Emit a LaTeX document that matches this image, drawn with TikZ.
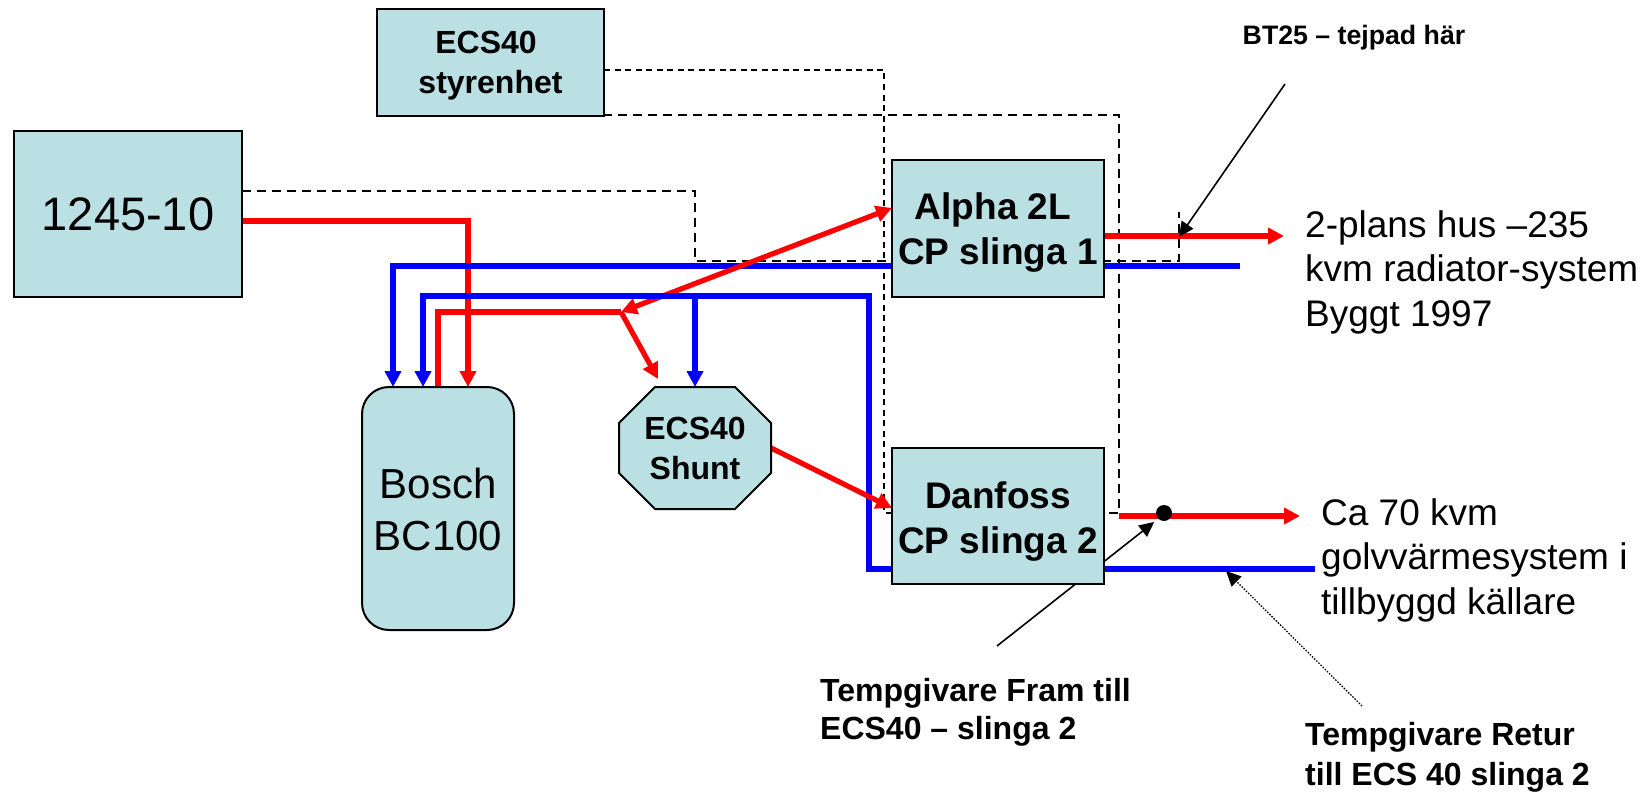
\documentclass[tikz,border=0pt]{standalone}
\usepackage{fontspec}
\setmainfont{Liberation Sans}
\usetikzlibrary{arrows.meta,backgrounds}
\definecolor{boxfill}{HTML}{BAE0E3}
\newcommand{\dropby}[1]{\rule{0pt}{#1pt}}
\tikzset{
  x=1pt,y=-1pt,
  unit/.style={draw=black,line width=2pt,fill=boxfill,inner sep=0pt,outer sep=0pt,align=center},
  bareunit/.style={inner sep=0pt,outer sep=0pt,align=center},
  bigtext/.style={font=\fontsize{37}{44.5}\selectfont},
  boldmid/.style={font=\fontsize{37}{45}\selectfont\bfseries},
  boldsmall/.style={font=\fontsize{32}{40}\selectfont\bfseries},
  caption/.style={align=left,anchor=west,inner sep=0pt},
  note/.style={bigtext,align=left,anchor=west,inner sep=0pt},
  redpipe/.style={draw=red,line width=5.2pt},
  bluepipe/.style={draw=blue,line width=5.2pt},
  tipflow/.style={-{Triangle[length=16pt,width=16pt]}},
  signalA/.style={draw=black,line width=1.7pt,dash pattern=on 6pt off 4.5pt},
  signalB/.style={draw=black,line width=1.8pt,dash pattern=on 9pt off 6pt},
  leader/.style={draw=black,line width=1.6pt,-{Triangle[length=15pt,width=14pt]}},
}
\begin{document}
\begin{tikzpicture}
\useasboundingbox (0,0) rectangle (1650,792);
\node[unit,boldsmall,minimum width=227pt,minimum height=107pt] (ecs) at (490.5,62.5) {\dropby{29}ECS40\hspace*{9pt}\\styrenhet};
\node[unit,font=\fontsize{47}{50}\selectfont,minimum width=228pt,minimum height=166pt] (reg) at (128,214) {1245-10};
\node[unit,boldmid,minimum width=212pt,minimum height=137pt] (alpha) at (998,228.5) {\dropby{35}Alpha 2L\hspace*{10pt}\\CP slinga 1};
\node[unit,boldmid,minimum width=212pt,minimum height=136pt] (dan) at (998,516) {\dropby{37}Danfoss\\CP slinga 2};
\node[unit,rounded corners=27pt,font=\fontsize{42}{52}\selectfont,minimum width=152pt,minimum height=243pt] (bosch) at (438,508.5) {\dropby{33}Bosch\\BC100};
\node[bareunit,boldsmall,minimum width=152pt,minimum height=122pt] (shunt) at (695,448) {ECS40\\Shunt};
\node[note] (house) at (1305,272) {2-plans hus –235\\kvm radiator-system\\Byggt 1997};
\node[note] (floor) at (1321,560) {Ca 70 kvm\\golvvärmesystem i\\tillbyggd källare};
\node[font=\fontsize{26.7}{30}\selectfont\bfseries,inner sep=0pt] (bt) at (1354,38) {BT25 – tejpad här};
\node[caption,font=\fontsize{32}{38}\selectfont\bfseries] (fram) at (820,712) {Tempgivare Fram till\\ECS40 – slinga 2};
\node[caption,font=\fontsize{32}{40}\selectfont\bfseries] (retur) at (1305,757) {Tempgivare Retur\\till ECS 40 slinga 2};
\node[circle,fill=black,inner sep=0pt,minimum size=16pt] (dot) at (1164,513) {};
\coordinate (btend) at (1285,84);
\coordinate (btjoint) at (1179,237);
\coordinate (framend) at (997,646);
\coordinate (returend) at (1362,706);
\coordinate (tee) at (621,312);
\begin{scope}[on background layer]
  \draw[signalA] (ecs.east |- 0,70) -- (884,70) -- (884,513) -- (dan.west |- 0,513);
  \draw[signalB] (498,115) -- (1119,115) -- (1119,513) -- (dan.east |- 0,513);
  \draw[signalB] (reg.east |- 0,191) -- (695,191) -- (695,261) -- (1179,261) -- (1179,212);
  \draw[redpipe,tipflow] (reg.east |- 0,221) -- (468,221) -- (bosch.north -| 468,0);
  \draw[bluepipe,tipflow] (alpha.west |- 0,266) -- (393,266) -- (bosch.north -| 393,0);
  \draw[bluepipe] (alpha.east |- 0,266) -- (1240,266);
  \draw[redpipe] (bosch.north -| 438,0) -- (438,312) -- (tee);
  \draw[redpipe,{Triangle[length=16pt,width=16pt]}-{Triangle[length=16pt,width=16pt]}] (tee) -- (alpha.west |- 0,208);
  \draw[redpipe,tipflow] (tee) -- (658,379);
  \draw[bluepipe,tipflow] (dan.west |- 0,569) -- (869,569) -- (869,296) -- (423,296) -- (bosch.north -| 423,0);
  \draw[bluepipe,tipflow] (695,296) -- (shunt.north -| 695,0);
  \draw[redpipe,tipflow] (shunt.east |- 0,448) -- (dan.west |- 0,508);
  \draw[redpipe,tipflow] (alpha.east |- 0,236) -- (1284,236);
  \draw[redpipe,tipflow] (1119,516) -- (1300,516);
  \draw[bluepipe] (dan.east |- 0,569) -- (1315,569);
  \draw[leader] (btend) -- (btjoint);
  \draw[leader,shorten >=5pt] (framend) -- (dot.south west);
  \draw[leader,line width=1.3pt,dash pattern=on 1.5pt off 1.5pt] (returend) -- (1226,571);
  \draw[draw=black,line width=2pt,fill=boxfill]
    ([xshift=36pt]shunt.north west) -- ([xshift=-36pt]shunt.north east)
    -- ([yshift=-36pt]shunt.north east) -- ([yshift=36pt]shunt.south east)
    -- ([xshift=-36pt]shunt.south east) -- ([xshift=36pt]shunt.south west)
    -- ([yshift=36pt]shunt.south west) -- ([yshift=-36pt]shunt.north west) -- cycle;
\end{scope}
\end{tikzpicture}
\end{document}
